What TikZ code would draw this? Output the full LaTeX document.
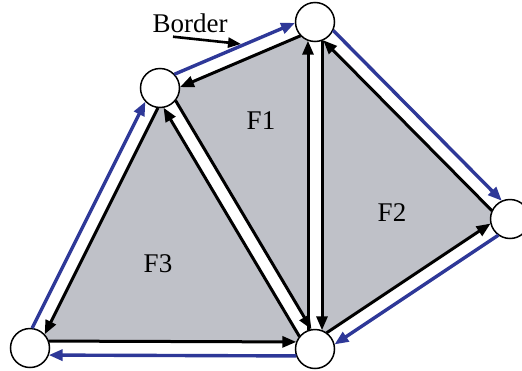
\documentclass[tikz,border=0pt]{standalone}
\usepackage{fontspec}
\setmainfont{Liberation Serif}
\usetikzlibrary{calc, arrows.meta, backgrounds}

\definecolor{facegray}{RGB}{191,193,200}
\definecolor{borderblue}{RGB}{46,56,152}

\tikzset{
    vertex/.style={draw, circle, fill=white, line width=1.5pt, minimum size=39pt, inner sep=0pt},
    halfedge/.style={line width=3pt, -{Triangle[length=14pt, width=11pt]}, shorten <=18.7pt, shorten >=18.7pt},
    outer/.style={halfedge, borderblue, line width=3.4pt},
    gap/.style={draw=white, line width=14pt},
    facelabel/.style={font=\fontsize{27}{31}\selectfont, inner sep=0pt},
}

\begin{document}
\begin{tikzpicture}[x=1pt, y=-1pt]
    \useasboundingbox (0, 0) rectangle (522, 370);

    \node[vertex] at (160, 88) (a) {};
    \node[vertex] at (315, 22) (b) {};
    \node[vertex] at (510, 219) (c) {};
    \node[vertex] at (315, 349) (d) {};
    \node[vertex] at (30, 348) (e) {};

    \node[facelabel] at (261, 121) (f1) {F1};
    \node[facelabel] at (392, 213) (f2) {F2};
    \node[facelabel] at (158, 264) (f3) {F3};

    \begin{pgfonlayer}{background}
        \fill[facegray] (a.center) -- (b.center) -- (c.center) -- (d.center) -- (e.center) -- cycle;
        \draw[gap] (a.center) -- (b.center);
        \draw[gap] (b.center) -- (c.center);
        \draw[gap] (c.center) -- (d.center);
        \draw[gap] (d.center) -- (e.center);
        \draw[gap] (e.center) -- (a.center);
        \draw[gap] (a.center) -- (d.center);
        \draw[gap] (b.center) -- (d.center);
    \end{pgfonlayer}

    % F1
    \draw[halfedge] ($(b)!7pt!90:(a)$) -- ($(a)!7pt!-90:(b)$);
    \draw[halfedge] ($(a)!7pt!90:(d)$) -- ($(d)!7pt!-90:(a)$);
    \draw[halfedge] ($(d)!7pt!90:(b)$) -- ($(b)!7pt!-90:(d)$);
    % F2
    \draw[halfedge] ($(b)!7pt!90:(d)$) -- ($(d)!7pt!-90:(b)$);
    \draw[halfedge] ($(d)!7pt!90:(c)$) -- ($(c)!7pt!-90:(d)$);
    \draw[halfedge] ($(c)!7pt!90:(b)$) -- ($(b)!7pt!-90:(c)$);
    % F3
    \draw[halfedge] ($(a)!7pt!90:(e)$) -- ($(e)!7pt!-90:(a)$);
    \draw[halfedge] ($(e)!7pt!90:(d)$) -- ($(d)!7pt!-90:(e)$);
    \draw[halfedge] ($(d)!7pt!90:(a)$) -- ($(a)!7pt!-90:(d)$);
    % border
    \draw[outer] ($(e)!7pt!90:(a)$) -- ($(a)!7pt!-90:(e)$);
    \draw[outer] ($(a)!7pt!90:(b)$) -- ($(b)!7pt!-90:(a)$);
    \draw[outer] ($(b)!7pt!90:(c)$) -- ($(c)!7pt!-90:(b)$);
    \draw[outer] ($(c)!7pt!90:(d)$) -- ($(d)!7pt!-90:(c)$);
    \draw[outer] ($(d)!7pt!90:(e)$) -- ($(e)!7pt!-90:(d)$);

    \node[facelabel] at (190, 23) (lbl) {Border};
    \coordinate (tip) at (241, 44);
    \draw[line width=2.6pt, -{Triangle[length=13pt, width=10pt]}] ([xshift=-17pt, yshift=-4pt]lbl.south) -- (tip);
\end{tikzpicture}
\end{document}
